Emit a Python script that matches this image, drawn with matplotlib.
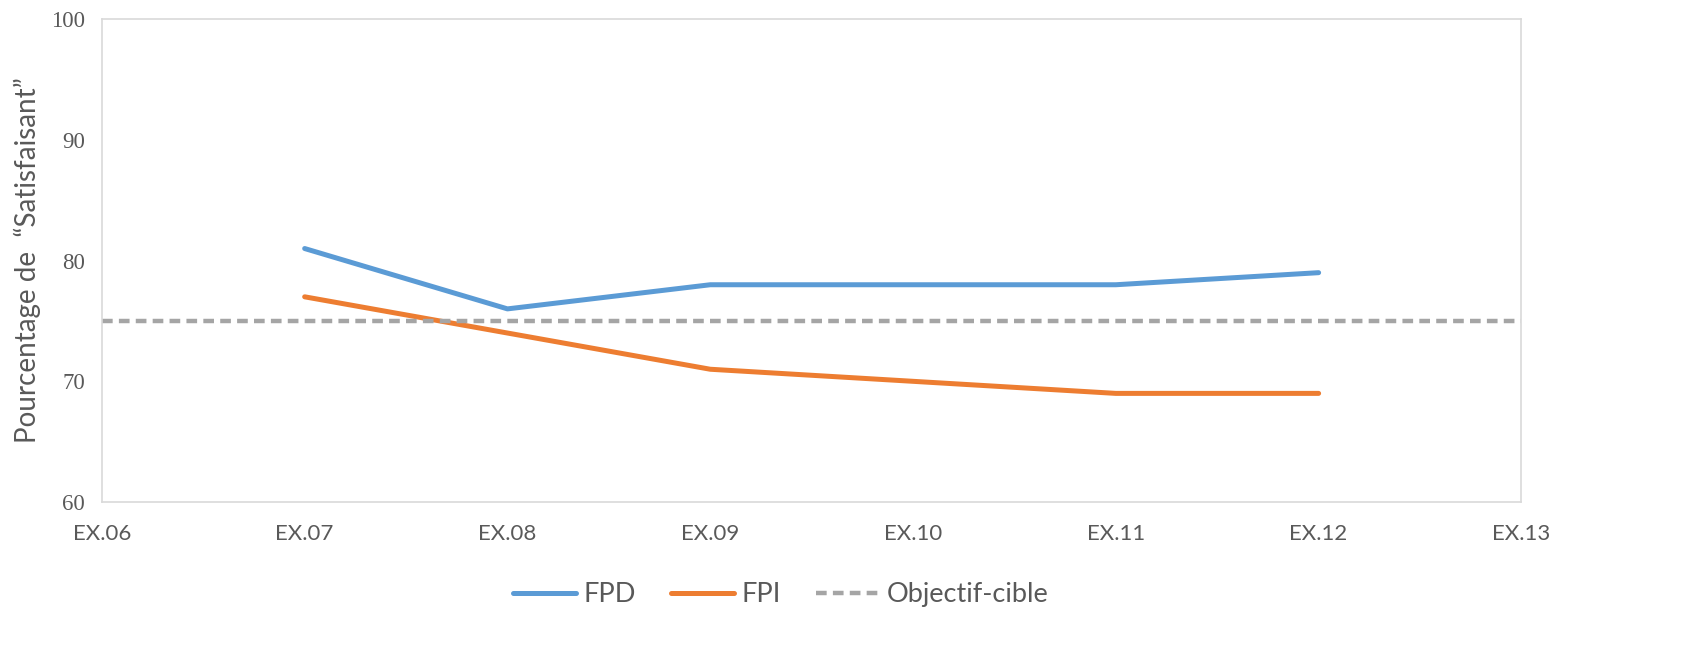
import matplotlib
matplotlib.use('Agg')
from matplotlib import pyplot as plt

# Data
exercices = ['EX.06', 'EX.07', 'EX.08', 'EX.09', 'EX.10', 'EX.11', 'EX.12', 'EX.13']
fpd = [81, 76, 78, 78, 78, 79]
fpi = [77, 74, 71, 70, 69, 69]
objectif = 75

x_series = list(range(1, 7))

fig = plt.figure(figsize=(16.98, 6.61), dpi=100)
ax = fig.add_axes([0.060, 0.2405, 0.836, 0.7305])

ax.plot(x_series, fpd, color='#5B9BD5', lw=3.6, solid_capstyle='round', label='FPD')
ax.plot(x_series, fpi, color='#ED7D31', lw=3.6, solid_capstyle='round', label='FPI')
ax.axhline(objectif, color='#A5A5A5', lw=3.2, dashes=(2.4, 1.4), label='Objectif-cible')

ax.set_xlim(0, len(exercices) - 1)
ax.set_ylim(60, 100)
ax.set_xticks(range(len(exercices)))
ax.set_xticklabels(exercices, fontname='Lato', fontsize=16, color='#595959')
ax.set_yticks([60, 70, 80, 90, 100])
ax.set_yticklabels(['60', '70', '80', '90', '100'], fontname='Liberation Serif',
                   fontsize=16.5, color='#595959')
ax.tick_params(length=0, pad=12)
ax.tick_params(axis='x', pad=16)

for s in ax.spines.values():
    s.set_color('#D9D9D9')
    s.set_linewidth(1.2)

ax.set_ylabel('Pourcentage de  \u201cSatisfaisant\u201d', fontname='Lato', fontsize=20,
              color='#595959')
ax.yaxis.set_label_coords(-0.043, 0.5)

fig.legend(loc='center', bbox_to_anchor=(0.46, 0.1), ncol=3, frameon=False,
           prop={'family': 'Lato', 'size': 19.5}, handlelength=2.3, columnspacing=1.3,
           handletextpad=0.3, labelcolor='#595959')

fig.savefig('out.png', dpi=100)
